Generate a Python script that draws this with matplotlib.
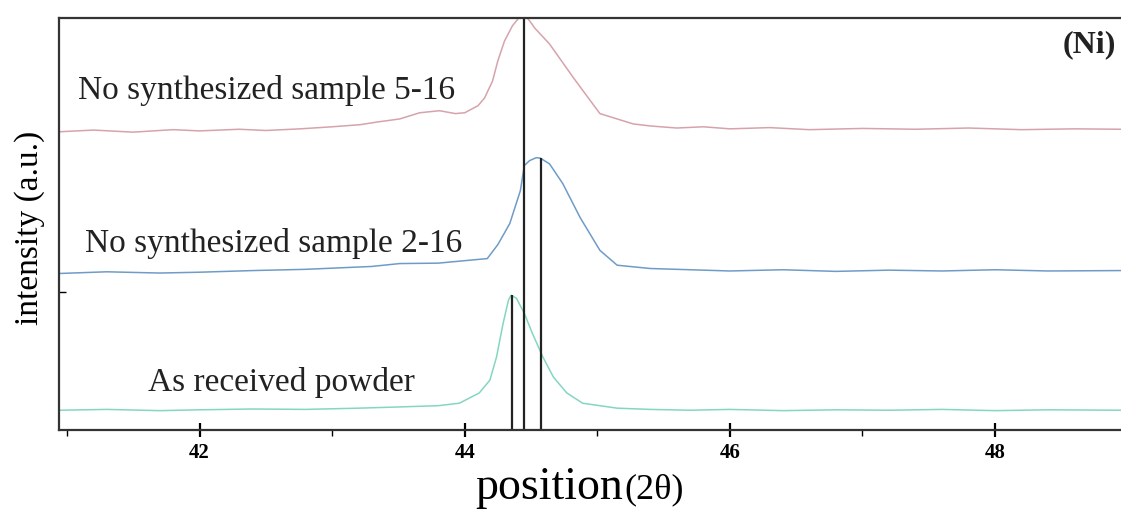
import numpy as np
import matplotlib.pyplot as plt

# XRD patterns around the Ni (111) reflection, intensity in arbitrary units
red_x = [40.95, 41.2, 41.5, 41.8, 42.0, 42.3, 42.5, 42.76, 43.0, 43.21, 43.35, 43.51, 43.66, 43.81,
         43.93, 44.0, 44.10, 44.15, 44.21, 44.25, 44.30, 44.36, 44.42, 44.45, 44.49, 44.53, 44.64,
         44.82, 45.02, 45.27, 45.40, 45.6, 45.8, 46.0, 46.3, 46.6, 47.0, 47.4, 47.8, 48.2, 48.6, 48.95]
red_y = [72.4, 72.8, 72.3, 72.9, 72.6, 73.0, 72.7, 73.1, 73.6, 74.1, 74.8, 75.5, 77.0, 77.5,
         76.8, 77.0, 78.7, 80.6, 84.7, 89.6, 94.4, 98.1, 100.5, 100.8, 99.3, 97.5, 93.7,
         85.5, 76.8, 74.3, 73.8, 73.3, 73.6, 73.1, 73.4, 72.9, 73.2, 73.0, 73.3, 72.9, 73.1, 73.0]

blue_x = [40.95, 41.3, 41.7, 42.0, 42.4, 42.8, 43.3, 43.51, 43.8, 44.1, 44.17, 44.25, 44.34, 44.42,
          44.45, 44.49, 44.54, 44.57, 44.64, 44.74, 44.87, 45.02, 45.15, 45.40, 45.7, 46.0, 46.4,
          46.8, 47.2, 47.6, 48.0, 48.4, 48.95]
blue_y = [38.0, 38.4, 38.1, 38.3, 38.7, 39.0, 39.7, 40.4, 40.5, 41.4, 41.6, 45.0, 50.1, 58.1,
          64.2, 65.4, 66.1, 66.0, 64.6, 59.8, 51.6, 43.6, 40.0, 39.2, 38.9, 38.6, 38.9,
          38.5, 38.8, 38.6, 38.9, 38.6, 38.7]

green_x = [40.95, 41.3, 41.7, 42.0, 42.4, 42.8, 43.2, 43.51, 43.8, 43.96, 44.11, 44.19, 44.24,
           44.29, 44.33, 44.35, 44.39, 44.45, 44.51, 44.59, 44.67, 44.77, 44.89, 45.15, 45.4,
           45.7, 46.0, 46.4, 46.8, 47.2, 47.6, 48.0, 48.4, 48.95]
green_y = [4.8, 5.0, 4.7, 4.9, 5.1, 5.0, 5.3, 5.6, 5.9, 6.5, 9.0, 12.1, 17.7,
           25.9, 31.5, 32.7, 32.0, 28.3, 23.5, 17.7, 12.8, 9.0, 6.5, 5.3, 5.0,
           4.8, 5.0, 4.7, 4.9, 4.8, 5.0, 4.7, 4.9, 4.8]

# peak positions marked with vertical lines
peak_pos = [44.36, 44.45, 44.575]
peak_top = [32.7, 100.0, 66.1]

labels = ['No synthesized sample 5-16', 'No synthesized sample 2-16', 'As received powder']
major_ticks = [42, 44, 46, 48]
minor_ticks = [41, 43, 45, 47]

plt.rcParams['font.family'] = ['Liberation Serif', 'DejaVu Serif']

fig = plt.figure(figsize=(11.21, 5.09), dpi=100)
ax = fig.add_axes([0.0526, 0.1552, 0.9474, 0.8094])

ax.plot(red_x, red_y, color='#d6a3ab', linewidth=1.1)
ax.plot(blue_x, blue_y, color='#6f9cc6', linewidth=1.1)
ax.plot(green_x, green_y, color='#84d6c2', linewidth=1.1)

ax.vlines(peak_pos, 0, peak_top, colors='#222222', linewidth=1.6)

ax.set_xlim(40.94, 48.95)
ax.set_ylim(0, 100)

ax.text(41.08, 82.3, labels[0], fontsize=24, ha='left', va='center', color='#222222')
ax.text(41.14, 45.3, labels[1], fontsize=24, ha='left', va='center', color='#222222')
ax.text(41.61, 11.6, labels[2], fontsize=24, ha='left', va='center', color='#222222')
ax.text(0.945, 0.935, '(Ni)', transform=ax.transAxes, fontsize=23, fontweight='bold',
        ha='left', va='center', color='#222222')

for side in ['top', 'left', 'bottom']:
    ax.spines[side].set_linewidth(1.6)
    ax.spines[side].set_color('#333333')
ax.spines['right'].set_visible(False)

ax.set_xticks(major_ticks)
ax.set_xticks(minor_ticks, minor=True)
ax.set_xticklabels([str(t) for t in major_ticks], fontsize=15, fontweight='bold')
ax.tick_params(axis='x', which='major', direction='inout', length=10, width=1.6, pad=4)
ax.tick_params(axis='x', which='minor', direction='out', length=4, width=1.0)
ax.set_yticks([33.4])
ax.set_yticklabels([])
ax.tick_params(axis='y', direction='in', length=5, width=1.0)

ax.set_ylabel('intensity (a.u.)', fontsize=24)
ax.yaxis.set_label_coords(-0.013, 0.49)

fig.text(0.4895, 0.02, 'position', fontsize=33, ha='center', va='baseline')
fig.text(0.557, 0.02, '(2θ)', fontsize=26, ha='left', va='baseline')

fig.savefig('out.png', dpi=100)
